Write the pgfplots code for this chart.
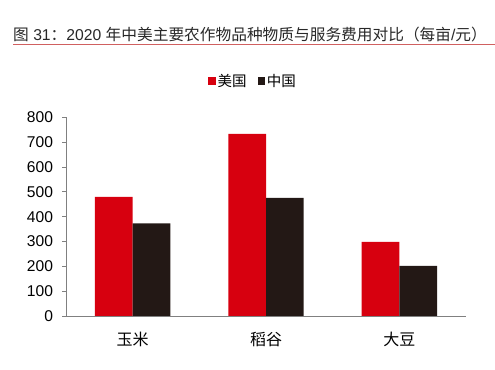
\documentclass[border=0pt]{standalone}
\usepackage{pgfplots}
\pgfplotsset{compat=1.18}
\usepackage{fontspec}
\setmainfont{Liberation Sans}
\newfontfamily\cjk{Noto Sans CJK SC}
\definecolor{usred}{RGB}{215,0,15}
\definecolor{cndark}{RGB}{35,24,21}
\definecolor{axgray}{RGB}{128,128,128}
\definecolor{linered}{RGB}{208,96,96}
\definecolor{titlec}{RGB}{40,40,40}
\begin{document}
\begin{tikzpicture}
\path[use as bounding box] (0,0) rectangle (495bp,370bp);
\node[anchor=west, inner sep=0pt, text=titlec, font=\fontsize{15.7bp}{18bp}\selectfont] at (13bp,335bp)
  {{\cjk 图} 31{\cjk ：}2020 {\cjk 年中美主要农作物品种物质与服务费用对比（每亩}/{\cjk 元）}};
\draw[linered, line width=1.5bp] (13bp,325.5bp) -- (495bp,325.5bp);
\begin{axis}[
  at={(66bp,54bp)}, anchor=south west,
  scale only axis,
  width=400bp, height=198.7bp,
  ymin=0, ymax=800,
  xmin=-0.5, xmax=2.5,
  ybar=0pt, bar width=37.7bp,
  axis x line*=bottom, axis y line*=left,
  axis line style={axgray, line width=0.9bp, -},
  every tick/.style={axgray, line width=0.9bp},
  tick align=outside,
  major tick length=4bp,
  ytick={0,100,...,800},
  yticklabel style={font=\fontsize{15.6bp}{18bp}\selectfont, text=black, xshift=-5.5bp},
  /pgf/number format/assume math mode=true,
  xtick={0,1,2},
  xticklabels={{\cjk 玉米},{\cjk 稻谷},{\cjk 大豆}},
  x tick style={draw=none},
  xticklabel style={font=\fontsize{16bp}{18bp}\selectfont, text=black, yshift=-9bp},
  extra x ticks={-0.5,0.5,1.5,2.5},
  extra x tick labels={},
  extra x tick style={x tick style={axgray, line width=0.9bp}, major tick length=4bp},
  legend style={at={(0.4675,1.183)}, anchor=center, draw=none, fill=none,
    legend columns=2, font=\fontsize{14.5bp}{16bp}\selectfont,
    /tikz/every even column/.append style={column sep=9bp}},
  legend image code/.code={\fill[#1] (-2.5bp,-3.6bp) rectangle (4.8bp,3.6bp);},
]
\addplot[fill=usred, draw=none] coordinates {(0,480) (1,733) (2,298)};
\addplot[fill=cndark, draw=none] coordinates {(0,373) (1,476) (2,202)};
\legend{{\cjk 美国},{\cjk 中国}}
\end{axis}
\end{tikzpicture}
\end{document}
